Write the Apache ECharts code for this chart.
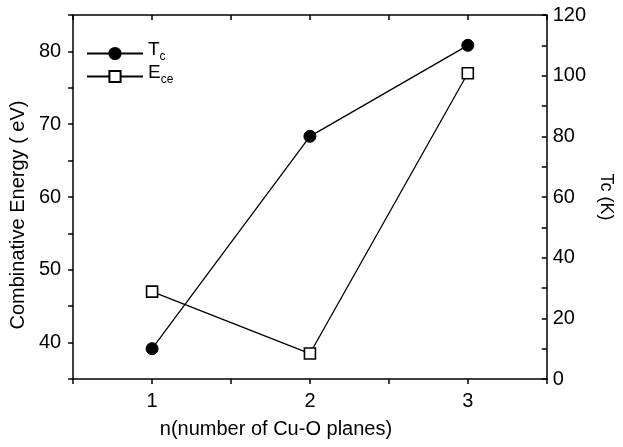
<!DOCTYPE html>
<html>
<head>
<meta charset="utf-8">
<script src="https://cdn.jsdelivr.net/npm/echarts@6/dist/echarts.min.js"></script>
<style>
html,body{margin:0;padding:0;background:#fff;}
#c{width:623px;height:447px;}
</style>
</head>
<body>
<div id="c"></div>
<script>
// Data
var nValues = [1, 2, 3];
var tcValues = [10, 80, 110];        // Tc (K), right axis
var eceValues = [47, 38.5, 77];      // Combinative energy (eV), left axis
var xTickLabels = ['1', '2', '3'];

var FONT = 'Liberation Sans, Arial, Helvetica, sans-serif';

function pairs(xs, ys) {
  return xs.map(function (x, i) { return [x, ys[i]]; });
}

var chart = echarts.init(document.getElementById('c'), null, {renderer: 'canvas'});
var axisLine = {show: true, lineStyle: {color: '#000', width: 1.5}};
var option = {
  backgroundColor: '#fff',
  animation: false,
  grid: {left: 68, right: 69, top: 15, bottom: 68},
  legend: {
    left: 81, top: 35, orient: 'vertical',
    itemWidth: 56, itemHeight: 14, itemGap: 0,
    data: ['Tc', 'Ece'],
    formatter: function (name) {
      if (name === 'Tc') return '{m|T}{s|c}';
      return '{m|E}{s|ce}';
    },
    textStyle: {
      fontFamily: FONT, color: '#000',
      rich: {
        m: {fontSize: 19, fontFamily: FONT, color: '#000', lineHeight: 19, padding: [0, 0, 4, 0], verticalAlign: 'bottom'},
        s: {fontSize: 12, fontFamily: FONT, color: '#000', lineHeight: 12, verticalAlign: 'bottom'}
      }
    }
  },
  xAxis: [{
    type: 'value', position: 'bottom', min: 0.5, max: 3.5, interval: 0.5,
    name: 'n(number of Cu-O planes)', nameLocation: 'middle', nameGap: 40,
    nameTextStyle: {fontFamily: FONT, fontSize: 20, color: '#000', padding: [0, 68, 0, 0]},
    axisLine: axisLine,
    axisTick: {show: true, inside: false, length: 5, lineStyle: {color: '#000', width: 1.5}},
    axisLabel: {
      fontFamily: FONT, fontSize: 20, color: '#000', margin: 12,
      formatter: function (v) {
        var i = nValues.indexOf(v);
        return i >= 0 ? xTickLabels[i] : '';
      }
    },
    splitLine: {show: false}
  }, {
    type: 'value', position: 'top', min: 0.5, max: 3.5, interval: 0.5,
    axisLine: axisLine,
    axisTick: {show: true, inside: true, length: 5, lineStyle: {color: '#000', width: 1.5}},
    axisLabel: {show: false},
    splitLine: {show: false}
  }],
  yAxis: [{
    type: 'value', position: 'left', min: 35, max: 85, interval: 5,
    name: 'Combinative Energy ( eV)', nameLocation: 'middle', nameGap: 36, nameRotate: 90,
    nameTextStyle: {fontFamily: FONT, fontSize: 20, color: '#000', padding: [0, 36, 0, 0]},
    axisLine: axisLine,
    axisTick: {show: true, inside: false, length: 5, lineStyle: {color: '#000', width: 1.5}},
    axisLabel: {
      fontFamily: FONT, fontSize: 20, color: '#000', margin: 12,
      formatter: function (v) { return v % 10 === 0 ? String(v) : ''; }
    },
    splitLine: {show: false}
  }, {
    type: 'value', position: 'right', min: 0, max: 120, interval: 10,
    name: 'Tc (K)', nameLocation: 'middle', nameGap: 50, nameRotate: -90,
    nameTextStyle: {fontFamily: FONT, fontSize: 18, color: '#000'},
    axisLine: axisLine,
    axisTick: {show: true, inside: true, length: 5, lineStyle: {color: '#000', width: 1.5}},
    axisLabel: {
      fontFamily: FONT, fontSize: 20, color: '#000', margin: 6,
      formatter: function (v) { return v % 20 === 0 ? String(v) : ''; }
    },
    splitLine: {show: false}
  }],
  series: [{
    name: 'Tc', type: 'line', xAxisIndex: 0, yAxisIndex: 1,
    data: pairs(nValues, tcValues),
    symbol: 'circle', symbolSize: 12,
    itemStyle: {color: '#000', borderColor: '#000', borderWidth: 1},
    lineStyle: {color: '#000', width: 1.3}
  }, {
    name: 'Ece', type: 'line', xAxisIndex: 0, yAxisIndex: 0,
    data: pairs(nValues, eceValues),
    symbol: 'rect', symbolSize: 11,
    itemStyle: {color: '#fff', borderColor: '#000', borderWidth: 1.6},
    lineStyle: {color: '#000', width: 1.3}
  }]
};
chart.setOption(option);
</script>
</body>
</html>
